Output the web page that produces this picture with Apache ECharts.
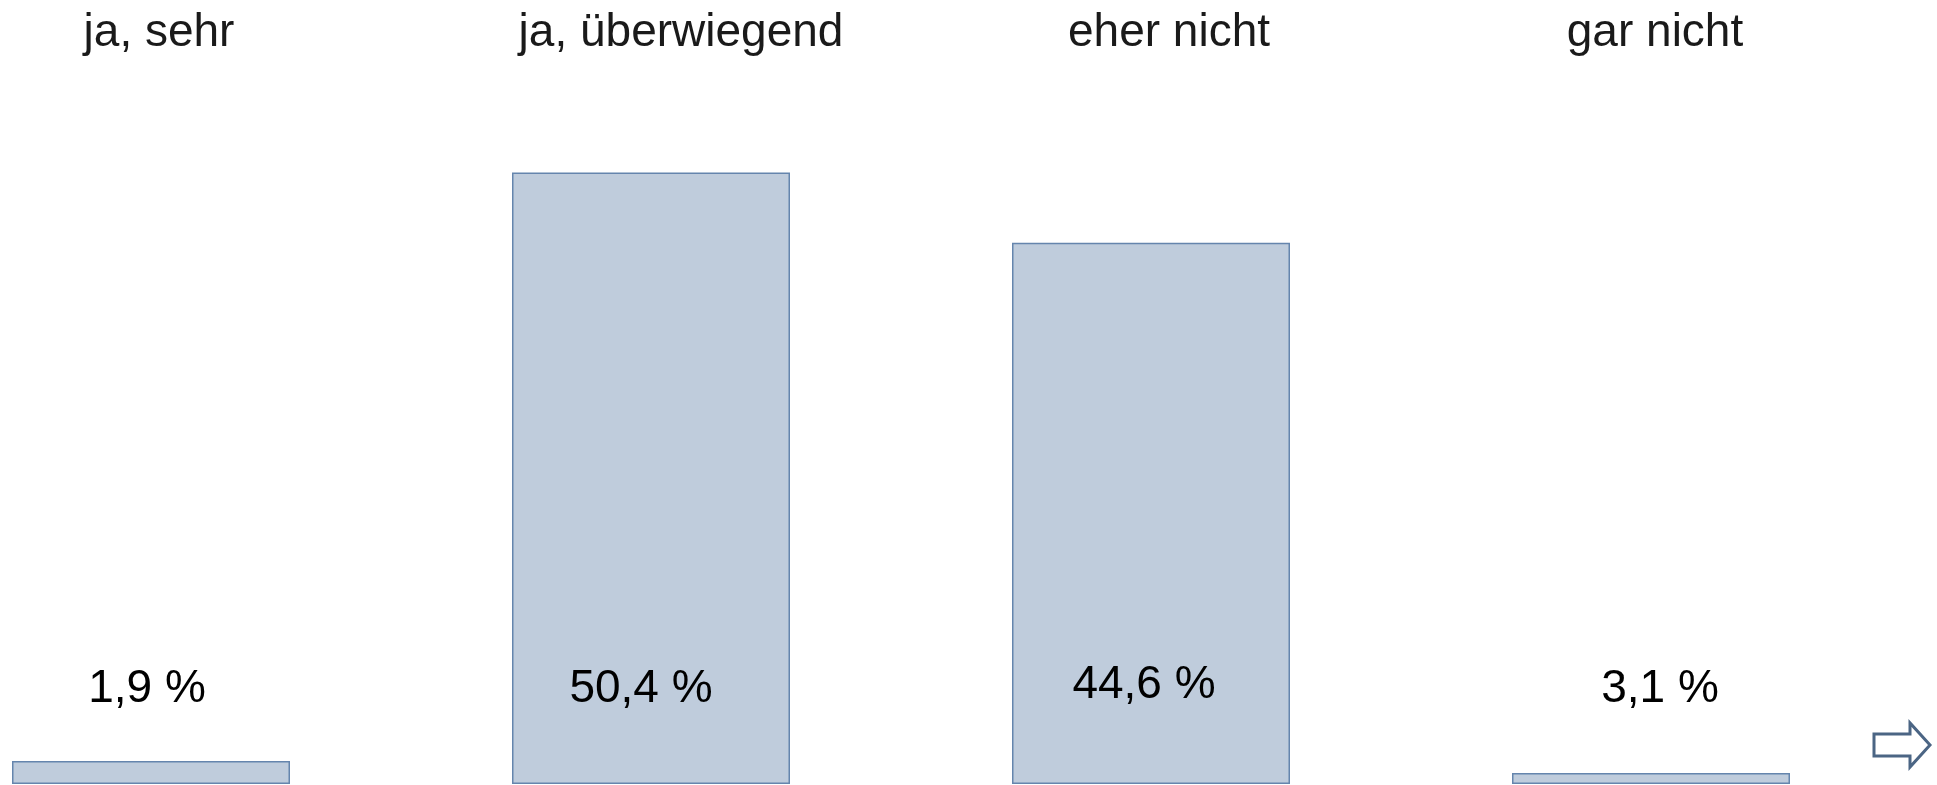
<!DOCTYPE html>
<html>
<head>
<meta charset="utf-8">
<script src="https://cdn.jsdelivr.net/npm/echarts@6/dist/echarts.min.js"></script>
<style>
  html, body { margin: 0; padding: 0; background: #fff; }
  #chart { width: 1937px; height: 785px; }
</style>
</head>
<body>
<div id="chart"></div>
<script>
// Antwortkategorien
var categories = ['ja, sehr', 'ja, überwiegend', 'eher nicht', 'gar nicht'];
// Balkenhöhe wie im Bild gezeichnet (in %)
var barValues = [1.9, 50.4, 44.6, 0.9];
// Beschriftungen der Balken
var labelTexts = ['1,9 %', '50,4 %', '44,6 %', '3,1 %'];

// kleine Verschiebungen der Texte gegenüber der Balkenmitte (px)
var titleShift = [8, 30, 18, 4];
var labelShift = [-4, -10, -7, 9];

var chart = echarts.init(document.getElementById('chart'));

var barData = barValues.map(function (v, i) {
    var item = { value: [i, v], label: { formatter: labelTexts[i], offset: [labelShift[i], 0] } };
    if (i === 2) {
        item.label.distance = 76; // 44,6 sitzt etwas höher
    }
    return item;
});

var titleRich = {};
categories.forEach(function (c, i) {
    titleRich['t' + i] = {
        fontSize: 46,
        fontFamily: 'Liberation Sans, Arial, sans-serif',
        color: '#1a1a1a',
        padding: [0, 0, 0, titleShift[i] * 2]
    };
});

chart.setOption({
    animation: false,
    grid: { left: 0, right: 36, top: 56, bottom: 1 },
    xAxis: {
        type: 'value',
        position: 'top',
        min: -0.302,
        max: 3.5,
        splitLine: { show: false },
        axisLine: { show: false },
        axisTick: { show: false },
        axisLabel: {
            customValues: [0, 1, 2, 3],
            margin: 0,
            fontSize: 46,
            fontFamily: 'Liberation Sans, Arial, sans-serif',
            color: '#1a1a1a',
            formatter: function (v) {
                var i = Math.round(v);
                return '{t' + i + '|' + categories[i] + '}';
            },
            rich: titleRich
        }
    },
    yAxis: {
        type: 'value',
        min: 0,
        max: 60,
        show: false,
        splitLine: { show: false }
    },
    series: [
        {
            type: 'bar',
            data: barData,
            barWidth: 278,
            itemStyle: {
                color: '#bfccdc',
                borderColor: '#6585ad',
                borderWidth: 1.5
            },
            label: {
                show: true,
                position: 'insideBottom',
                distance: 72,
                fontSize: 46,
                fontFamily: 'Liberation Sans, Arial, sans-serif',
                color: '#000'
            }
        }
    ],
    graphic: [
        {
            // Pfeil unten rechts
            type: 'polygon',
            shape: {
                points: [[1874, 734], [1910, 734], [1910, 723], [1930, 745], [1910, 767], [1910, 756], [1874, 756]]
            },
            style: { fill: '#fff', stroke: '#4b6584', lineWidth: 3 }
        }
    ]
});

window.onresize = function () {
    chart.resize();
};
</script>
</body>
</html>
